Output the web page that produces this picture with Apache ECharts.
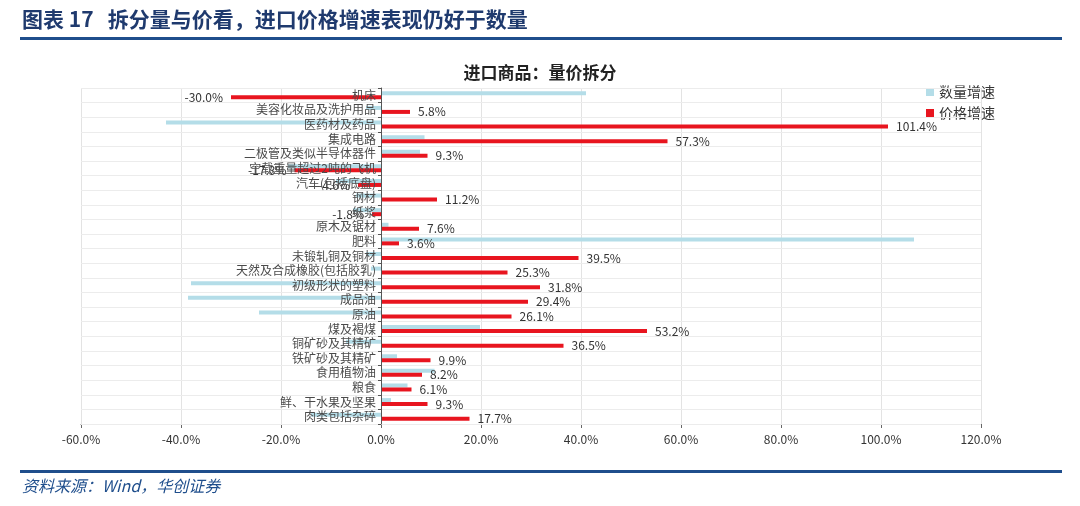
<!DOCTYPE html>
<html>
<head>
<meta charset="utf-8">
<script src="https://cdn.jsdelivr.net/npm/echarts@6/dist/echarts.min.js"></script>
<style>
  html, body { margin: 0; padding: 0; background: #fff; }
  #chart { width: 1080px; height: 506px; }
</style>
</head>
<body>
<div id="chart"></div>
<script>
    // categories, top to bottom
    var categories = ['机床', '美容化妆品及洗护用品', '医药材及药品', '集成电路', '二极管及类似半导体器件',
        '空载重量超过2吨的飞机', '汽车(包括底盘)', '钢材', '纸浆', '原木及锯材', '肥料', '未锻轧铜及铜材',
        '天然及合成橡胶(包括胶乳)', '初级形状的塑料', '成品油', '原油', '煤及褐煤', '铜矿砂及其精矿',
        '铁矿砂及其精矿', '食用植物油', '粮食', '鲜、干水果及坚果', '肉类包括杂碎']

    // 数量增速 (%)
    var qtyGrowth = [41.0, -3.0, -43.0, 8.7, 7.8, -18.6, -9.0, -5.0, -5.6, 1.5, 106.6, -3.0,
        -2.0, -38.0, -38.6, -24.4, 19.8, -7.0, 3.2, 10.7, 5.3, 2.0, -14.0]

    // 价格增速 (%)
    var priceGrowth = [-30.0, 5.8, 101.4, 57.3, 9.3, -17.3, -4.6, 11.2, -1.8, 7.6, 3.6, 39.5,
        25.3, 31.8, 29.4, 26.1, 53.2, 36.5, 9.9, 8.2, 6.1, 9.3, 17.7]

    var seriesNames = ['数量增速', '价格增速']
    var xMin = -60, xMax = 120, xStep = 20

    var cnFont = '"Noto Sans CJK SC", "Noto Sans", sans-serif'

    var gridLeft = 81, gridRight = 99
    var gridWidth = 1080 - gridLeft - gridRight
    // the category axis sits on x = 0, labels next to it
    var zeroOffset = -(0 - xMin) / (xMax - xMin) * gridWidth

    var chart = echarts.init(document.getElementById('chart'))

    var option = {
        backgroundColor: '#fff',
        animation: false,
        textStyle: { fontFamily: cnFont },
        title: {
            text: '进口商品：量价拆分',
            left: 'center',
            top: 59,
            textStyle: { fontSize: 17, fontWeight: 'bold', color: '#222', fontFamily: cnFont }
        },
        legend: {
            orient: 'vertical',
            left: 921,
            top: 80,
            itemWidth: 8,
            itemHeight: 8,
            itemGap: 7,
            icon: 'rect',
            data: seriesNames,
            textStyle: { fontSize: 14, color: '#333', fontFamily: cnFont }
        },
        grid: { left: gridLeft, right: gridRight, top: 88, bottom: 82, containLabel: false, outerBoundsMode: 'none' },
        xAxis: {
            type: 'value',
            min: xMin,
            max: xMax,
            interval: xStep,
            axisLine: { show: true, onZero: false, lineStyle: { color: '#666' } },
            axisTick: { show: true, length: 4, lineStyle: { color: '#666' } },
            axisLabel: {
                color: '#333', fontSize: 12, margin: 9,
                formatter: function(v) { return v.toFixed(1) + '%' }
            },
            splitLine: { show: true, lineStyle: { color: '#e3e3e3' } }
        },
        yAxis: {
            type: 'category',
            inverse: true,
            data: categories,
            offset: zeroOffset,
            z: 10,
            axisLine: { show: true, onZero: false, lineStyle: { color: '#555' } },
            axisTick: { show: true, interval: 0, length: 3, lineStyle: { color: '#555' } },
            axisLabel: { interval: 0, hideOverlap: false, color: '#4a4a4a', fontSize: 12, margin: 5 },
            splitLine: { show: true, interval: 0, lineStyle: { color: '#ececec' } }
        },
        series: [
            {
                name: seriesNames[0],
                type: 'bar',
                data: qtyGrowth,
                barWidth: 4,
                barGap: '0%',
                itemStyle: { color: '#b4dde8' }
            },
            {
                name: seriesNames[1],
                type: 'bar',
                data: priceGrowth.map(function(v) {
                    return { value: v, label: { position: v < 0 ? 'left' : 'right' } }
                }),
                barWidth: 4,
                barGap: '0%',
                itemStyle: { color: '#e8151f' },
                label: {
                    show: true,
                    distance: 8,
                    color: '#333',
                    fontSize: 12,
                    formatter: function(p) { return p.value.toFixed(1) + '%' }
                }
            }
        ],
        graphic: [
            {
                type: 'text',
                left: 22,
                top: 9,
                style: {
                    text: '图表 17   拆分量与价看，进口价格增速表现仍好于数量',
                    font: 'bold 21px ' + cnFont,
                    fill: '#1f3a6e'
                }
            },
            {
                type: 'rect',
                shape: { x: 20, y: 37, width: 1042, height: 3 },
                style: { fill: '#1f4e8c' }
            },
            {
                type: 'rect',
                shape: { x: 20, y: 470, width: 1042, height: 3 },
                style: { fill: '#1f4e8c' }
            },
            {
                type: 'text',
                left: 22,
                top: 478,
                style: {
                    text: '资料来源：Wind，华创证券',
                    font: 'italic 16px ' + cnFont,
                    fill: '#1f4e8c'
                }
            }
        ]
    }

    chart.setOption(option)
</script>
</body>
</html>
